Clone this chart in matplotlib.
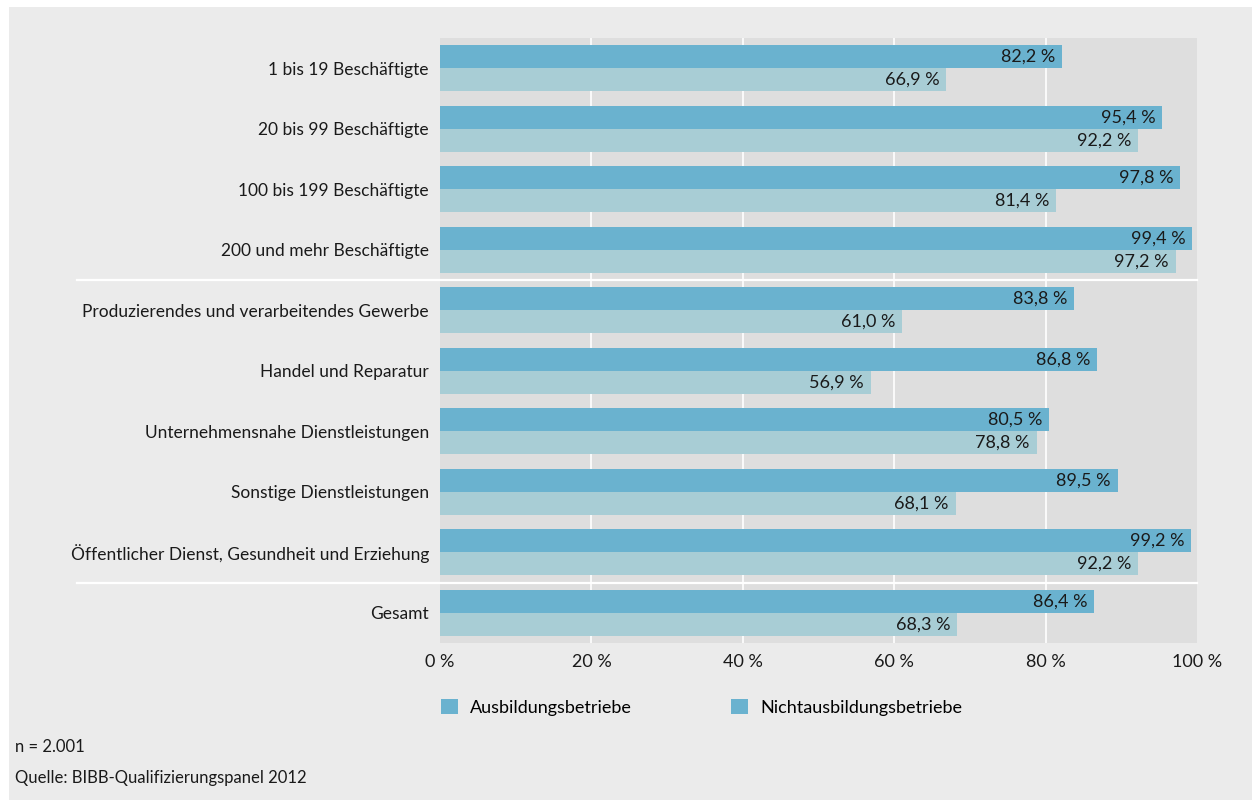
import matplotlib.pyplot as plt
import matplotlib.transforms as mtransforms
from matplotlib.patches import Rectangle, Patch
import numpy as np

plt.rcParams['font.family'] = ['Lato', 'DejaVu Sans']

categories = [
    '1 bis 19 Beschäftigte',
    '20 bis 99 Beschäftigte',
    '100 bis 199 Beschäftigte',
    '200 und mehr Beschäftigte',
    'Produzierendes und verarbeitendes Gewerbe',
    'Handel und Reparatur',
    'Unternehmensnahe Dienstleistungen',
    'Sonstige Dienstleistungen',
    'Öffentlicher Dienst, Gesundheit und Erziehung',
    'Gesamt',
]
ausbildung = [82.2, 95.4, 97.8, 99.4, 83.8, 86.8, 80.5, 89.5, 99.2, 86.4]
nichtausbildung = [66.9, 92.2, 81.4, 97.2, 61.0, 56.9, 78.8, 68.1, 92.2, 68.3]
series_names = ['Ausbildungsbetriebe', 'Nichtausbildungsbetriebe']
xticks = [0, 20, 40, 60, 80, 100]
separators_after = [3, 8]  # white rule below these rows

c_top = '#6ab2cf'
c_bottom = '#a8cdd5'
panel_bg = '#ebebeb'
plot_bg = '#dedede'
txt = '#1a1a1a'

W, H = 1252, 800
fig = plt.figure(figsize=(W / 100, H / 100), dpi=100, facecolor='white')
fig.patches.append(Rectangle((9 / W, 0), 1 - 9 / W, 1 - 7 / H, transform=fig.transFigure,
                             facecolor=panel_bg, edgecolor='none', zorder=-10))

ax = fig.add_axes([440 / W, 1 - 643 / H, 757 / W, 605 / H])
ax.set_facecolor(plot_bg)
for s in ax.spines.values():
    s.set_visible(False)

y = np.arange(len(categories))
h = 0.38
ax.barh(y - h / 2, ausbildung, height=h, color=c_top, zorder=2)
ax.barh(y + h / 2, nichtausbildung, height=h, color=c_bottom, zorder=2)

fs = 13
for yi, v in zip(y, ausbildung):
    ax.text(v - 0.9, yi - h / 2, f'{v:.1f} %'.replace('.', ','), ha='right', va='center',
            fontsize=fs, color=txt, zorder=3)
for yi, v in zip(y, nichtausbildung):
    ax.text(v - 0.9, yi + h / 2, f'{v:.1f} %'.replace('.', ','), ha='right', va='center',
            fontsize=fs, color=txt, zorder=3)

ax.set_xlim(0, 100)
ax.set_ylim(len(categories) - 0.5, -0.5)
ax.set_xticks(xticks)
ax.set_xticklabels([f'{t} %' for t in xticks], fontsize=fs, color=txt)
ax.set_yticks(y)
ax.set_yticklabels(categories, fontsize=12.5, color=txt)
ax.tick_params(length=0, pad=8)
ax.tick_params(axis='x', pad=8)
for t in xticks[1:-1]:
    ax.axvline(t, color='white', lw=1.2, zorder=1)

# horizontal rules between groups, reaching into the label column
trans = mtransforms.blended_transform_factory(ax.transAxes, ax.transData)
for r in separators_after:
    ax.plot([(77 - 440) / 757, 1], [r + 0.5, r + 0.5], color='white', lw=1.6,
            transform=trans, clip_on=False, zorder=4)

handles = [Patch(facecolor=c_top, edgecolor='none'), Patch(facecolor=c_top, edgecolor='none')]
fig.legend(handles, series_names, loc='upper left', bbox_to_anchor=(425 / W, 1 - 683 / H),
           ncol=2, frameon=False, fontsize=fs, handlelength=0.9, handleheight=0.9,
           handletextpad=0.7, columnspacing=5.5)

fig.text(15 / W, 1 - 747 / H, 'n = 2.001', fontsize=12, color=txt, va='center')
fig.text(15 / W, 1 - 778 / H, 'Quelle: BIBB-Qualifizierungspanel 2012', fontsize=12,
         color=txt, va='center')

fig.savefig('out.png', dpi=100, facecolor=fig.get_facecolor())
